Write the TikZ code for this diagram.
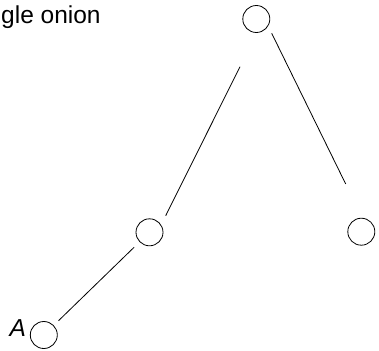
\documentclass[tikz,border=0pt]{standalone}
\usepackage{fontspec}
\setmainfont{Liberation Sans}
\begin{document}
\begin{tikzpicture}[x=1pt,y=-1pt,
  vtx/.style={circle,draw,line width=0.8pt,minimum size=27pt,inner sep=0pt},
  edge/.style={line width=0.8pt},
  lbl/.style={inner sep=0pt,font=\fontsize{24.5}{28}\selectfont}]
\useasboundingbox (0,0) rectangle (379,350);
\node[vtx] (top) at (256.3,19) {};
\node[vtx] (mid) at (149.5,232.3) {};
\node[vtx] (right) at (361.3,231.7) {};
\node[vtx] (bot) at (43.8,335) {};
\node[lbl,anchor=base west] (title) at (1,24) {gle onion};
\node[lbl,anchor=base west] (alabel) at (9.5,336.5) {\itshape A};
\coordinate (a1) at (240,66.7);
\coordinate (a2) at (165.7,215.7);
\coordinate (b1) at (271.7,33.3);
\coordinate (b2) at (345.7,184);
\draw[edge] (a1) -- (a2);
\draw[edge] (b1) -- (b2);
\draw[edge,shorten <=6.6pt,shorten >=7.5pt] (bot) -- (mid);
\end{tikzpicture}
\end{document}
